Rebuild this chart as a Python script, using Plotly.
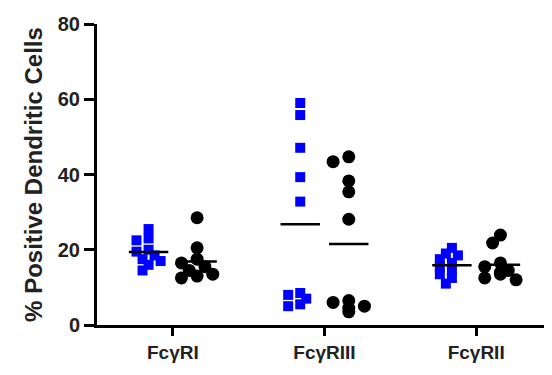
import numpy as np
import plotly.graph_objects as go

categories = ["Fc\u03b3RI", "Fc\u03b3RIII", "Fc\u03b3RII"]

# % positive dendritic cells, blue squares (first group) and black circles (second group)
blue_values = [
    [25.5, 23, 22.5, 20, 19.5, 18.5, 17.5, 17, 16, 14.5],
    [59, 55.8, 47.1, 39.3, 32.8, 8.5, 8, 7, 5.5, 5],
    [20.5, 19, 18.5, 17.5, 16.5, 15.5, 14.5, 13.5, 12.5, 11],
]
black_values = [
    [28.5, 20.5, 17.5, 16.5, 15.5, 14.5, 13.5, 13, 12.5],
    [44.7, 43.4, 38.3, 35.4, 28.1, 6.5, 6, 5, 4.5, 3.5],
    [23.9, 21.8, 16.5, 15.5, 14.5, 14, 13.5, 12.5, 12],
]

Y_RANGE = [0, 80]
X_RANGE = [-0.5, 2.5]
PX_PER_X = 151.0
PX_PER_Y = 301.0 / 80


def spread(values, center, size_px):
    # column scatter: nudge overlapping points sideways (overlap allowed)
    placed = []
    xs = [0.0] * len(values)
    order = np.argsort(values)[::-1]
    step = size_px * 0.6 / PX_PER_X
    for i in order:
        y = values[i]
        best = center
        for k in [0, -1, 1, -2, 2]:
            x = center + k * step
            ok = True
            for px, py in placed:
                dx = (x - px) * PX_PER_X
                dy = (y - py) * PX_PER_Y
                if dx * dx + dy * dy < (size_px * 0.75) ** 2:
                    ok = False
                    break
            if ok:
                best = x
                break
        placed.append((best, y))
        xs[i] = best
    return xs


fig = go.Figure()

offset = 0.16
half_line = 0.13
for g in range(len(categories)):
    for vals, off, color, symbol, size in [
        (blue_values[g], -offset, "#0000ff", "square", 10),
        (black_values[g], offset, "#000000", "circle", 13),
    ]:
        xs = spread(vals, g + off, size)
        fig.add_trace(
            go.Scatter(
                x=xs,
                y=vals,
                mode="markers",
                marker={"symbol": symbol, "size": size, "color": color, "line": {"width": 0}},
                cliponaxis=False,
                showlegend=False,
            )
        )
        m = float(np.mean(vals))
        fig.add_trace(
            go.Scatter(
                x=[g + off - half_line, g + off + half_line],
                y=[m, m],
                mode="lines",
                line={"color": "black", "width": 2.5},
                cliponaxis=False,
                showlegend=False,
            )
        )

font = {"family": "Liberation Sans, Arial, sans-serif", "color": "#222222"}

# page body adds an 8px margin, so the figure is 8px smaller than the window
fig.update_layout(
    width=544,
    height=367,
    margin={"l": 89, "r": 0, "t": 16, "b": 50},
    plot_bgcolor="white",
    paper_bgcolor="white",
    font={**font, "size": 18},
)
fig.update_xaxes(
    range=X_RANGE,
    tickvals=[0, 1, 2],
    ticktext=[f"<b>{c}</b>" for c in categories],
    ticks="outside",
    ticklen=8,
    tickwidth=3,
    tickcolor="black",
    showline=True,
    linecolor="black",
    linewidth=3,
    showgrid=False,
    zeroline=False,
    tickfont={**font, "size": 19},
)
fig.update_yaxes(
    range=Y_RANGE,
    tickvals=[0, 20, 40, 60, 80],
    ticktext=[f"<b>{v}</b>" for v in [0, 20, 40, 60, 80]],
    ticks="outside",
    ticklen=10,
    tickwidth=3,
    tickcolor="black",
    showline=True,
    linecolor="black",
    linewidth=3,
    showgrid=False,
    zeroline=False,
    tickfont={**font, "size": 20},
    title={"text": "<b>% Positive Dendritic Cells</b>", "font": {**font, "size": 24}, "standoff": 9},
)

fig.write_html("out.html")
